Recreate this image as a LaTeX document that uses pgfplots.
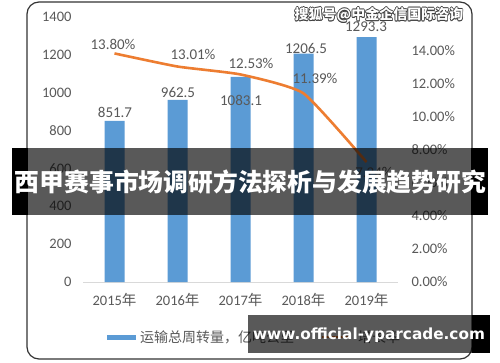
\documentclass[border=0pt]{standalone}
\usepackage{fontspec}
\setmainfont{Carlito}
\newfontfamily\cjk{Noto Sans CJK SC}
\newfontfamily\web{DejaVu Sans}
\usepackage{pgfplots}
\pgfplotsset{compat=1.18}
\definecolor{barblue}{HTML}{5B9BD5}
\definecolor{lineor}{HTML}{ED7D31}
\definecolor{txt}{HTML}{595959}
\newcommand{\wm}{{\cjk\bfseries 搜狐号@中金企信国际咨询}}
\begin{document}
\begin{tikzpicture}[x=1pt,y=1pt]
\useasboundingbox (0,0) rectangle (500,362);
\fill[white] (0,0) rectangle (500,362);
\draw[black!80, line width=1.2pt, rounded corners=12pt] (27,3) rectangle (472,360);
\begin{axis}[at={(83pt,80pt)}, anchor=south west, scale only axis,
  width=315pt, height=265pt,
  xmin=-0.5, xmax=4.5, ymin=0, ymax=1400,
  axis x line*=bottom, axis y line*=left,
  y axis line style={draw=none},
  x axis line style={draw=black!15, line width=1pt},
  major tick length=0pt,
  xtick={0,1,2,3,4},
  xticklabels={2015{\cjk 年},2016{\cjk 年},2017{\cjk 年},2018{\cjk 年},2019{\cjk 年}},
  ytick={0,200,...,1400},
  /pgf/number format/assume math mode=true,
  /pgf/number format/1000 sep={},
  tick label style={font=\fontsize{14.5}{16}\selectfont, text=txt},
  yticklabel style={xshift=-8pt},
  xticklabel style={yshift=-8pt},
  clip=false]
\addplot[ybar, bar width=20pt, fill=barblue, draw=none] coordinates
  {(0,851.7)(1,962.5)(2,1083.1)(3,1206.5)(4,1293.3)};
\end{axis}
\begin{axis}[at={(83pt,80pt)}, anchor=south west, scale only axis,
  width=315pt, height=265pt,
  xmin=-0.5, xmax=4.5, ymin=0, ymax=16,
  axis x line=none, axis y line*=right,
  y axis line style={draw=none},
  major tick length=0pt,
  ytick={0,2,...,14},
  yticklabels={0.00\%,2.00\%,4.00\%,6.00\%,8.00\%,10.00\%,12.00\%,14.00\%},
  tick label style={font=\fontsize{14.5}{16}\selectfont, text=txt},
  yticklabel style={xshift=10pt},
  clip=false]
\addplot[lineor, line width=2.6pt, smooth, tension=0.3] coordinates
  {(0,13.80)(1,13.01)(2,12.53)(3,11.39)(4,7.24)};
\end{axis}
% data labels
\begin{scope}[every node/.style={text=txt, font=\fontsize{15}{17}\selectfont, inner sep=0}]
\node at (115,250) {851.7};
\node at (178,270) {962.5};
\node at (241,262) {1083.1};
\node at (306,314) {1206.5};
\node at (366,335) {1293.3};
\node at (113,318) {13.80\%};
\node at (193,308) {13.01\%};
\node at (251,299) {12.53\%};
\node at (315,284) {11.39\%};
\node at (374,190) {7.24\%};
\end{scope}
% legend
\fill[barblue] (107,22.5) rectangle (136,27.5);
\node[anchor=west, text=txt, inner sep=0, font=\cjk\fontsize{14}{16}\selectfont] at (140,25) {运输总周转量，亿吨公里};
\draw[lineor, line width=2.6pt] (322,25) -- (350,25);
\node[anchor=west, text=txt, inner sep=0, font=\cjk\fontsize{14}{16}\selectfont] at (358,25) {增长率};
% banner
\fill[black] (12,147) rectangle (28,214);
\fill[black] (471,147) rectangle (488,214);
\fill[black, opacity=0.65] (28,147) rectangle (471,214);
\node[text=white, inner sep=0, font=\cjk\bfseries\fontsize{24.8}{26}\selectfont] at (250.5,180) {西甲赛事市场调研方法探析与发展趋势研究};
% watermark
\begin{scope}[every node/.style={inner sep=0, font=\fontsize{14}{16}\selectfont}]
\foreach \dx/\dy in {0.7/0,-0.7/0,0/0.7,0/-0.7,0.5/0.5,-0.5/0.5,0.5/-0.5,-0.5/-0.5}
  \node[text=black!75] at (379+\dx,347+\dy) {\wm};
\node[text=white] at (379,347) {\wm};
\end{scope}
% bottom box
\fill[black] (472,9) rectangle (490,47);
\fill[black, opacity=0.65] (248,9) rectangle (472,47);
\node[text=white, inner sep=0, font=\web\bfseries\fontsize{15.3}{17}\selectfont] at (369,27) {www.official-yparcade.com};
\end{tikzpicture}
\end{document}
